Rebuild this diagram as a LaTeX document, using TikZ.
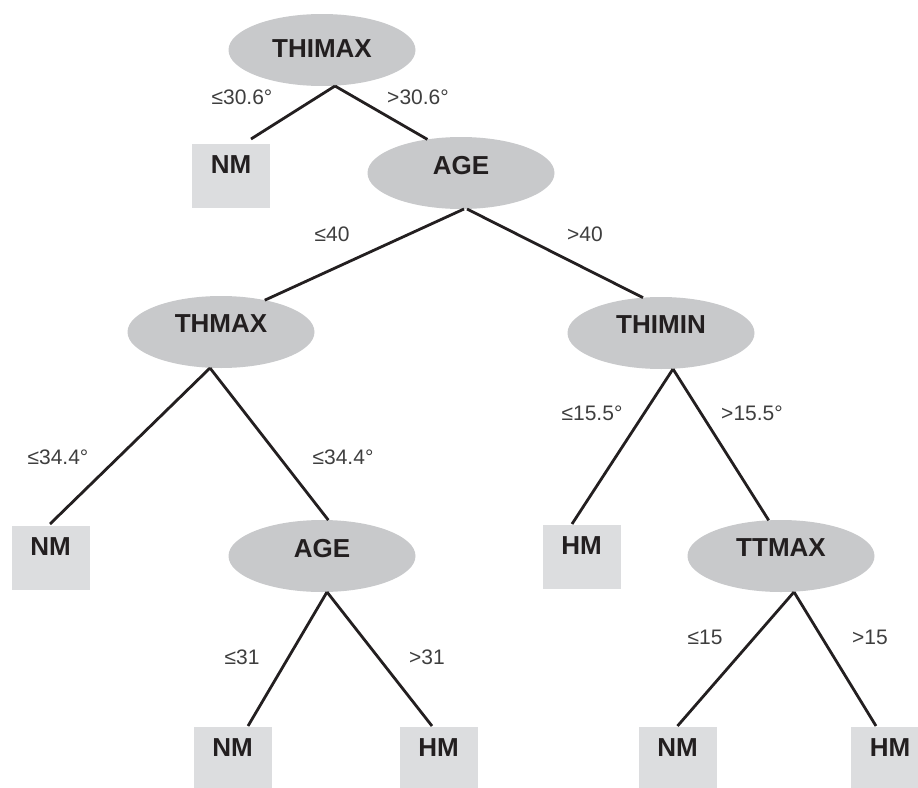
\documentclass[tikz,border=0pt]{standalone}
\usepackage{fontspec}
\setmainfont{Liberation Sans}
\usetikzlibrary{shapes.geometric}
\definecolor{ellfill}{RGB}{200,201,203}
\definecolor{boxfill}{RGB}{220,221,223}
\definecolor{ink}{RGB}{35,31,32}
\definecolor{labink}{RGB}{62,62,62}
\begin{document}
\begin{tikzpicture}[x=1pt,y=-1pt,
  splitnode/.style={ellipse, fill=ellfill, minimum width=187pt, minimum height=72pt,
    inner sep=0pt, outer sep=0pt, text=ink, text depth=16pt,
    font=\fontsize{26}{26}\selectfont\bfseries},
  leafnode/.style={rectangle, fill=boxfill, minimum width=78pt, minimum height=64pt,
    inner sep=0pt, outer sep=0pt, text=ink, text depth=22pt,
    font=\fontsize{26}{26}\selectfont\bfseries},
  conn/.style={draw=ink, line width=2.8pt},
  condlabel/.style={inner sep=0pt, text=labink, font=\fontsize{21}{21}\selectfont}]
\clip (0,0) rectangle (918,787);
% nodes
\node[splitnode, text depth=3pt] (thimax) at (322,50) {THIMAX};
\node[leafnode] (nm1) at (231,176) {NM};
\node[splitnode] (age1) at (461,173) {AGE};
\node[splitnode] (thmax) at (221,332) {THMAX};
\node[splitnode] (thimin) at (661,333) {THIMIN};
\node[leafnode] (nm2) at (50.5,558) {NM};
\node[splitnode] (age2) at (322,556) {AGE};
\node[leafnode] (hm1) at (581.5,557) {HM};
\node[splitnode] (ttmax) at (781,556) {TTMAX};
\node[leafnode] (nm3) at (232.5,759) {NM};
\node[leafnode] (hm2) at (438.5,759) {HM};
\node[leafnode] (nm4) at (677.5,759) {NM};
\node[leafnode] (hm3) at (890,759) {HM};
% connectors
\draw[conn] ([xshift=13pt]thimax.south) -- ([xshift=20pt,yshift=5pt]nm1.north);
\draw[conn] ([xshift=13pt]thimax.south) -- (age1.135);
\draw[conn] ([xshift=3pt]age1.south) -- (thmax.36);
\draw[conn] ([xshift=6pt]age1.south) -- (thimin.117);
\draw[conn] ([xshift=-11pt]thmax.south) -- ([xshift=-0.5pt,yshift=2pt]nm2.north);
\draw[conn] ([xshift=-11pt]thmax.south) -- (age2.80);
\draw[conn] ([xshift=12pt]thimin.south) -- ([xshift=-9.5pt,yshift=1pt]hm1.north);
\draw[conn] ([xshift=12pt]thimin.south) -- (ttmax.109);
\draw[conn] ([xshift=5pt]age2.south) -- ([xshift=15.5pt,yshift=1pt]nm3.north);
\draw[conn] ([xshift=5pt]age2.south) -- ([xshift=-6.5pt,yshift=1pt]hm2.north);
\draw[conn] ([xshift=13pt]ttmax.south) -- ([yshift=1pt]nm4.north);
\draw[conn] ([xshift=13pt]ttmax.south) -- ([xshift=-14pt,yshift=1pt]hm3.north);
% condition labels
\node[condlabel] (l1) at (242,97) {≤30.6°};
\node[condlabel] (l2) at (418,97) {>30.6°};
\node[condlabel] (l3) at (332,234) {≤40};
\node[condlabel] (l4) at (585,234) {>40};
\node[condlabel] (l5) at (58,457) {≤34.4°};
\node[condlabel] (l6) at (343,457) {≤34.4°};
\node[condlabel] (l7) at (592,413) {≤15.5°};
\node[condlabel] (l8) at (752,413) {>15.5°};
\node[condlabel] (l9) at (242,657) {≤31};
\node[condlabel] (l10) at (427,657) {>31};
\node[condlabel] (l11) at (705,637) {≤15};
\node[condlabel] (l12) at (870,637) {>15};
\end{tikzpicture}
\end{document}
